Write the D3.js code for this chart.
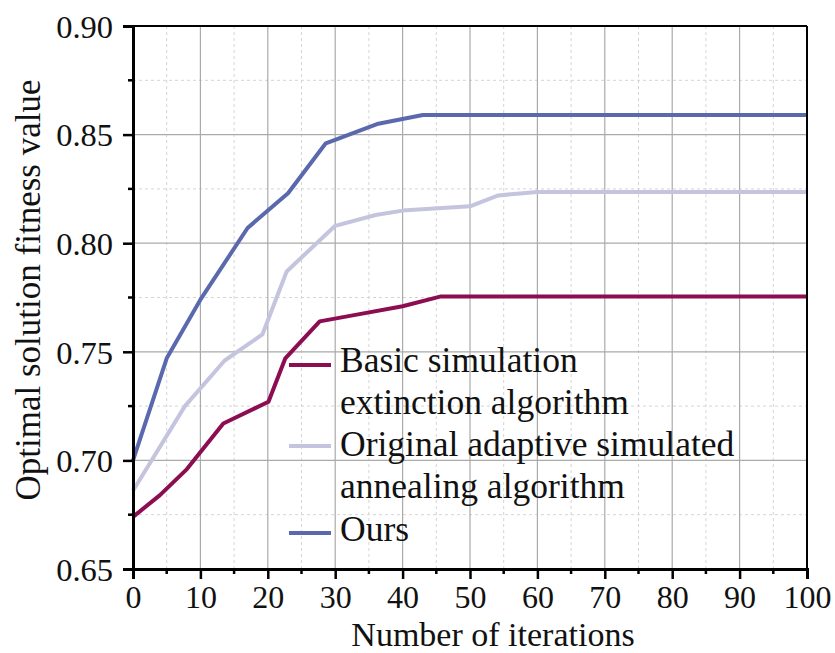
<!DOCTYPE html>
<html>
<head>
<meta charset="utf-8">
<script src="https://cdn.jsdelivr.net/npm/d3@7"></script>
<style>
  body { margin: 0; background: #fff; }
  text { font-family: "Liberation Serif", "Times New Roman", serif; fill: #111; }
</style>
</head>
<body>
<div id="chart"></div>
<script>

// iteration / fitness pairs
var basicX = [0, 4, 8, 13.4, 20.1, 22.6, 27.7, 33, 40, 45.7, 100];
var basicY = [0.674, 0.684, 0.696, 0.717, 0.727, 0.747, 0.764, 0.767, 0.771, 0.7755, 0.7755];

var origX = [0, 7.7, 13.6, 19.2, 22.8, 30, 36, 40, 50, 54.2, 60, 100];
var origY = [0.686, 0.725, 0.746, 0.758, 0.787, 0.808, 0.813, 0.815, 0.817, 0.822, 0.8236, 0.8236];

var oursX = [0, 5, 10, 17, 23, 28.6, 36.4, 43, 100];
var oursY = [0.700, 0.747, 0.774, 0.807, 0.823, 0.846, 0.855, 0.859, 0.859];

var seriesNames = [
  ['Basic simulation', 'extinction algorithm'],
  ['Original adaptive simulated', 'annealing algorithm'],
  ['Ours']
];
var seriesColors = ['#8c0d52', '#c4c4de', '#5a69ad'];

var xTicks = [0, 10, 20, 30, 40, 50, 60, 70, 80, 90, 100];
var yTicks = [0.65, 0.70, 0.75, 0.80, 0.85, 0.90];

var width = 835, height = 653;
var margin = {left: 133, right: 28, top: 26, bottom: 84};

var svg = d3.select('#chart').append('svg')
    .attr('width', width)
    .attr('height', height);

var x = d3.scaleLinear().domain([0, 100]).range([margin.left, width - margin.right]);
var y = d3.scaleLinear().domain([0.65, 0.90]).range([height - margin.bottom, margin.top]);

// minor grid (dashed)
var xMinor = d3.range(5, 100, 10);
var yMinor = [0.675, 0.725, 0.775, 0.825, 0.875];

svg.append('g').selectAll('line').data(xMinor).enter().append('line')
    .attr('x1', d => x(d)).attr('x2', d => x(d))
    .attr('y1', y(0.65)).attr('y2', y(0.90))
    .attr('stroke', '#d4d4d4').attr('stroke-dasharray', '3,3');
svg.append('g').selectAll('line').data(yMinor).enter().append('line')
    .attr('x1', x(0)).attr('x2', x(100))
    .attr('y1', d => y(d)).attr('y2', d => y(d))
    .attr('stroke', '#d4d4d4').attr('stroke-dasharray', '3,3');

// major grid
svg.append('g').selectAll('line').data(xTicks.slice(1, -1)).enter().append('line')
    .attr('x1', d => x(d)).attr('x2', d => x(d))
    .attr('y1', y(0.65)).attr('y2', y(0.90))
    .attr('stroke', '#aaa').attr('stroke-width', 1.2);
svg.append('g').selectAll('line').data(yTicks.slice(1, -1)).enter().append('line')
    .attr('x1', x(0)).attr('x2', x(100))
    .attr('y1', d => y(d)).attr('y2', d => y(d))
    .attr('stroke', '#aaa').attr('stroke-width', 1.2);

// series
var line = d3.line().x(d => x(d[0])).y(d => y(d[1]));
var series = [
  d3.zip(basicX, basicY),
  d3.zip(origX, origY),
  d3.zip(oursX, oursY)
];

svg.append('g').selectAll('path').data(series).enter().append('path')
    .attr('d', line)
    .attr('fill', 'none')
    .attr('stroke', (d, i) => seriesColors[i])
    .attr('stroke-width', 4)
    .attr('stroke-linejoin', 'round');

// frame top / right
svg.append('line')
    .attr('x1', x(0)).attr('x2', x(100)).attr('y1', y(0.90)).attr('y2', y(0.90))
    .attr('stroke', '#000').attr('stroke-width', 2);
svg.append('line')
    .attr('x1', x(100)).attr('x2', x(100)).attr('y1', y(0.90)).attr('y2', y(0.65))
    .attr('stroke', '#000').attr('stroke-width', 2);

// axes
var xAxis = d3.axisBottom(x).tickValues(xTicks).tickSize(10).tickPadding(6).tickFormat(d3.format('d'));
var yAxis = d3.axisLeft(y).tickValues(yTicks).tickSize(10).tickPadding(10).tickFormat(d3.format('.2f'));

var gx = svg.append('g').attr('transform', 'translate(0,' + y(0.65) + ')').call(xAxis);
var gy = svg.append('g').attr('transform', 'translate(' + x(0) + ',0)').call(yAxis);

[gx, gy].forEach(function(g) {
  g.select('.domain').attr('stroke', '#000').attr('stroke-width', 3);
  g.selectAll('.tick line').attr('stroke', '#000').attr('stroke-width', 2.5);
  g.selectAll('.tick text').attr('font-size', 32.5)
      .attr('font-family', '"Liberation Serif", serif').attr('fill', '#111');
});
gy.selectAll('.tick text').attr('dy', '0.35em');
gx.selectAll('.tick text').attr('font-size', 32);

// minor ticks
svg.append('g').selectAll('line').data(xMinor).enter().append('line')
    .attr('x1', d => x(d)).attr('x2', d => x(d))
    .attr('y1', y(0.65)).attr('y2', y(0.65) + 5)
    .attr('stroke', '#000').attr('stroke-width', 2.5);
svg.append('g').selectAll('line').data(yMinor).enter().append('line')
    .attr('x1', x(0) - 5).attr('x2', x(0))
    .attr('y1', d => y(d)).attr('y2', d => y(d))
    .attr('stroke', '#000').attr('stroke-width', 2.5);

// axis titles
svg.append('text')
    .attr('x', 493).attr('y', 645.5)
    .attr('text-anchor', 'middle')
    .attr('font-size', 34)
    .text('Number of iterations');

svg.append('text')
    .attr('transform', 'translate(40,290) rotate(-90)')
    .attr('text-anchor', 'middle')
    .attr('font-size', 35)
    .text('Optimal solution fitness value');

// legend
var legend = svg.append('g').attr('transform', 'translate(289,0)');
var rowY = [365, 446, 533];
var textY = [[372, 414], [456, 498], [541]];

seriesNames.forEach(function(lines, i) {
  legend.append('line')
      .attr('x1', 0).attr('x2', 42).attr('y1', rowY[i]).attr('y2', rowY[i])
      .attr('stroke', seriesColors[i]).attr('stroke-width', 4);
  lines.forEach(function(t, j) {
    legend.append('text')
        .attr('x', 51).attr('y', textY[i][j])
        .attr('font-size', 35.5)
        .text(t);
  });
});

</script>
</body>
</html>
